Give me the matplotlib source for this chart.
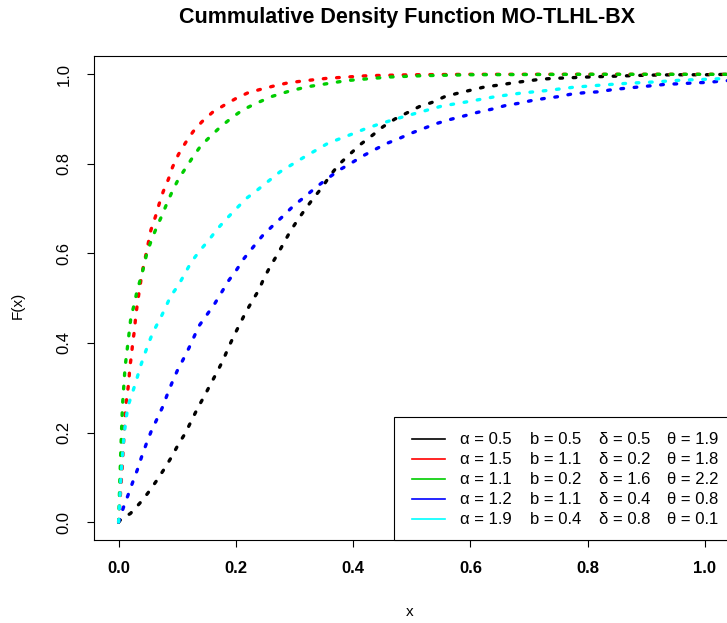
import matplotlib
matplotlib.use("Agg")
import matplotlib.pyplot as plt
from matplotlib.patches import Rectangle
from matplotlib.lines import Line2D

plt.rcParams['font.family'] = ['Liberation Sans', 'DejaVu Sans']

# odczytane punkty krzywych F(x)
x_black = [0, 0.005, 0.02, 0.036, 0.05, 0.064, 0.077, 0.091, 0.102, 0.114, 0.124, 0.135, 0.146,
           0.156, 0.167, 0.178, 0.187, 0.197, 0.217, 0.228, 0.239, 0.248, 0.259, 0.271, 0.282,
           0.293, 0.306, 0.319, 0.332, 0.348, 0.36, 0.376, 0.393, 0.413, 0.433, 0.451, 0.471,
           0.492, 0.513, 0.534, 0.556, 0.579, 0.602, 0.625, 0.649, 0.673, 0.696, 0.72, 0.742,
           0.765, 0.8, 0.85, 0.9, 0.95, 1.0, 1.04]
F_black = [0, 0.008, 0.019, 0.042, 0.065, 0.091, 0.117, 0.147, 0.174, 0.199, 0.226, 0.255, 0.281,
           0.306, 0.333, 0.361, 0.389, 0.417, 0.469, 0.494, 0.518, 0.545, 0.572, 0.598, 0.624,
           0.650, 0.676, 0.700, 0.723, 0.749, 0.773, 0.799, 0.820, 0.844, 0.864, 0.883, 0.900,
           0.914, 0.928, 0.937, 0.950, 0.958, 0.965, 0.972, 0.976, 0.981, 0.985, 0.989, 0.991,
           0.992, 0.994, 0.996, 0.998, 0.999, 0.999, 1.0]

x_red = [0, 0.003, 0.006, 0.009, 0.012, 0.015, 0.0176, 0.019, 0.022, 0.024, 0.027, 0.029, 0.032,
         0.035, 0.040, 0.047, 0.055, 0.063, 0.069, 0.076, 0.085, 0.092, 0.102, 0.114, 0.127,
         0.142, 0.160, 0.180, 0.200, 0.221, 0.241, 0.265, 0.289, 0.32, 0.355, 0.39, 0.426,
         0.5, 0.6, 0.8, 1.04]
F_red = [0, 0.06, 0.12, 0.19, 0.259, 0.287, 0.317, 0.345, 0.373, 0.401, 0.428, 0.458, 0.488,
         0.514, 0.557, 0.600, 0.652, 0.683, 0.710, 0.738, 0.766, 0.793, 0.821, 0.847, 0.872,
         0.894, 0.915, 0.931, 0.946, 0.959, 0.966, 0.974, 0.981, 0.986, 0.991, 0.994, 0.997,
         0.999, 1.0, 1.0, 1.0]

x_green = [0, 0.002, 0.004, 0.0065, 0.011, 0.016, 0.021, 0.027, 0.031, 0.0375, 0.043, 0.048,
           0.056, 0.065, 0.074, 0.083, 0.092, 0.102, 0.115, 0.127, 0.140, 0.157, 0.174, 0.193,
           0.211, 0.231, 0.26, 0.29, 0.321, 0.389, 0.434, 0.463, 0.52, 0.6, 0.8, 1.04]
F_green = [0, 0.09, 0.17, 0.259, 0.346, 0.401, 0.458, 0.488, 0.514, 0.544, 0.571, 0.600,
           0.630, 0.659, 0.685, 0.714, 0.740, 0.766, 0.792, 0.816, 0.840, 0.862, 0.883, 0.903,
           0.920, 0.933, 0.950, 0.962, 0.972, 0.986, 0.991, 0.994, 0.997, 0.999, 1.0, 1.0]

x_blue = [0, 0.008, 0.016, 0.024, 0.032, 0.039, 0.047, 0.055, 0.065, 0.075, 0.083, 0.091, 0.100,
          0.110, 0.120, 0.137, 0.150, 0.164, 0.176, 0.188, 0.201, 0.214, 0.230, 0.245, 0.263,
          0.281, 0.298, 0.317, 0.336, 0.356, 0.376, 0.397, 0.417, 0.437, 0.458, 0.479, 0.498,
          0.520, 0.542, 0.565, 0.589, 0.612, 0.636, 0.659, 0.681, 0.703, 0.726, 0.749, 0.773,
          0.795, 0.819, 0.843, 0.866, 0.889, 0.913, 0.936, 0.959, 0.983, 1.006, 1.028, 1.04]
F_blue = [0, 0.032, 0.060, 0.089, 0.117, 0.145, 0.174, 0.201, 0.229, 0.257, 0.285, 0.311, 0.338,
          0.363, 0.389, 0.438, 0.462, 0.488, 0.514, 0.540, 0.563, 0.589, 0.615, 0.639, 0.662,
          0.684, 0.706, 0.726, 0.747, 0.767, 0.786, 0.802, 0.818, 0.832, 0.846, 0.857, 0.868,
          0.879, 0.890, 0.899, 0.907, 0.915, 0.922, 0.930, 0.935, 0.941, 0.946, 0.950, 0.956,
          0.959, 0.961, 0.966, 0.969, 0.972, 0.975, 0.978, 0.979, 0.981, 0.982, 0.985, 0.986]

x_cyan = [0, 0.002, 0.004, 0.006, 0.009, 0.012, 0.016, 0.023, 0.030, 0.036, 0.043, 0.051, 0.058,
          0.065, 0.072, 0.089, 0.102, 0.113, 0.124, 0.139, 0.154, 0.168, 0.183, 0.200, 0.217,
          0.237, 0.256, 0.275, 0.295, 0.315, 0.336, 0.357, 0.377, 0.397, 0.418, 0.44, 0.462,
          0.485, 0.507, 0.551, 0.596, 0.642, 0.686, 0.732, 0.775, 0.824, 0.869, 0.915, 0.96,
          1.006, 1.04]
F_cyan = [0, 0.05, 0.10, 0.14, 0.19, 0.225, 0.259, 0.287, 0.315, 0.343, 0.370, 0.399, 0.422,
          0.44, 0.457, 0.505, 0.529, 0.555, 0.581, 0.607, 0.630, 0.654, 0.676, 0.699, 0.722,
          0.742, 0.762, 0.782, 0.798, 0.814, 0.830, 0.846, 0.856, 0.866, 0.877, 0.887, 0.896,
          0.905, 0.913, 0.929, 0.939, 0.950, 0.958, 0.964, 0.971, 0.976, 0.980, 0.983, 0.987,
          0.989, 0.991]

kolory = ['black', 'red', '#00CD00', 'blue', 'cyan']
alpha_vals = [0.5, 1.5, 1.1, 1.2, 1.9]
b_vals = [0.5, 1.1, 0.2, 1.1, 0.4]
delta_vals = [0.5, 0.2, 1.6, 0.4, 0.8]
theta_vals = [1.9, 1.8, 2.2, 0.8, 0.1]

W, H = 727, 623
fig = plt.figure(figsize=(W / 100, H / 100), dpi=100)

# obszar wykresu (prawa krawedz wychodzi poza obrazek)
ax = fig.add_axes([94 / W, (H - 540) / H, 669.6 / W, (540 - 56.4) / H])
ax.set_xlim(-0.042, 1.1)
ax.set_ylim(-0.04, 1.04)

krzywe = [(x_black, F_black), (x_red, F_red), (x_green, F_green), (x_blue, F_blue), (x_cyan, F_cyan)]
for (xs, ys), c in zip(krzywe, kolory):
    ax.plot(xs, ys, color=c, lw=2.4, linestyle=(0, (0.8, 3.2)), dash_capstyle='round')

for s in ax.spines.values():
    s.set_linewidth(0.8)
ax.spines['right'].set_visible(False)

ax.set_xticks([0, 0.2, 0.4, 0.6, 0.8, 1.0])
ax.set_xticklabels(['0.0', '0.2', '0.4', '0.6', '0.8', '1.0'], fontsize=12, fontweight='bold')
ax.set_yticks([0, 0.2, 0.4, 0.6, 0.8, 1.0])
ax.set_yticklabels(['0.0', '0.2', '0.4', '0.6', '0.8', '1.0'], fontsize=12, rotation=90, va='center')
ax.tick_params(axis='x', length=5, width=0.8, pad=10)
ax.tick_params(axis='y', length=5, width=0.8, pad=11)

fig.text(410 / W, 1 - 612 / H, 'x', ha='center', va='center', fontsize=11)
fig.text(18 / W, 1 - 305 / H, 'F(x)', ha='center', va='center', fontsize=11, rotation=90)
fig.text(407 / W, 1 - 17 / H, 'Cummulative Density Function MO-TLHL-BX',
         ha='center', va='center', fontsize=15.5, fontweight='bold')

# legenda (ucięta z prawej strony)
fig.add_artist(Rectangle((394 / W, (H - 540) / H), 400 / W, (540 - 417.3) / H,
                         transform=fig.transFigure, facecolor='white', edgecolor='black', lw=0.8))
for i, c in enumerate(kolory):
    yy = 1 - (439.3 + 20 * i) / H
    fig.add_artist(Line2D([411.7 / W, 445 / W], [yy, yy], color=c, lw=1.2, transform=fig.transFigure))
    fig.text(460 / W, yy, 'α = %.1f' % alpha_vals[i], va='center', fontsize=12)
    fig.text(530 / W, yy, 'b = %.1f' % b_vals[i], va='center', fontsize=12)
    fig.text(599.3 / W, yy, 'δ = %.1f' % delta_vals[i], va='center', fontsize=12)
    fig.text(667.3 / W, yy, 'θ = %.1f' % theta_vals[i], va='center', fontsize=12)

fig.savefig('out.png', dpi=100)
